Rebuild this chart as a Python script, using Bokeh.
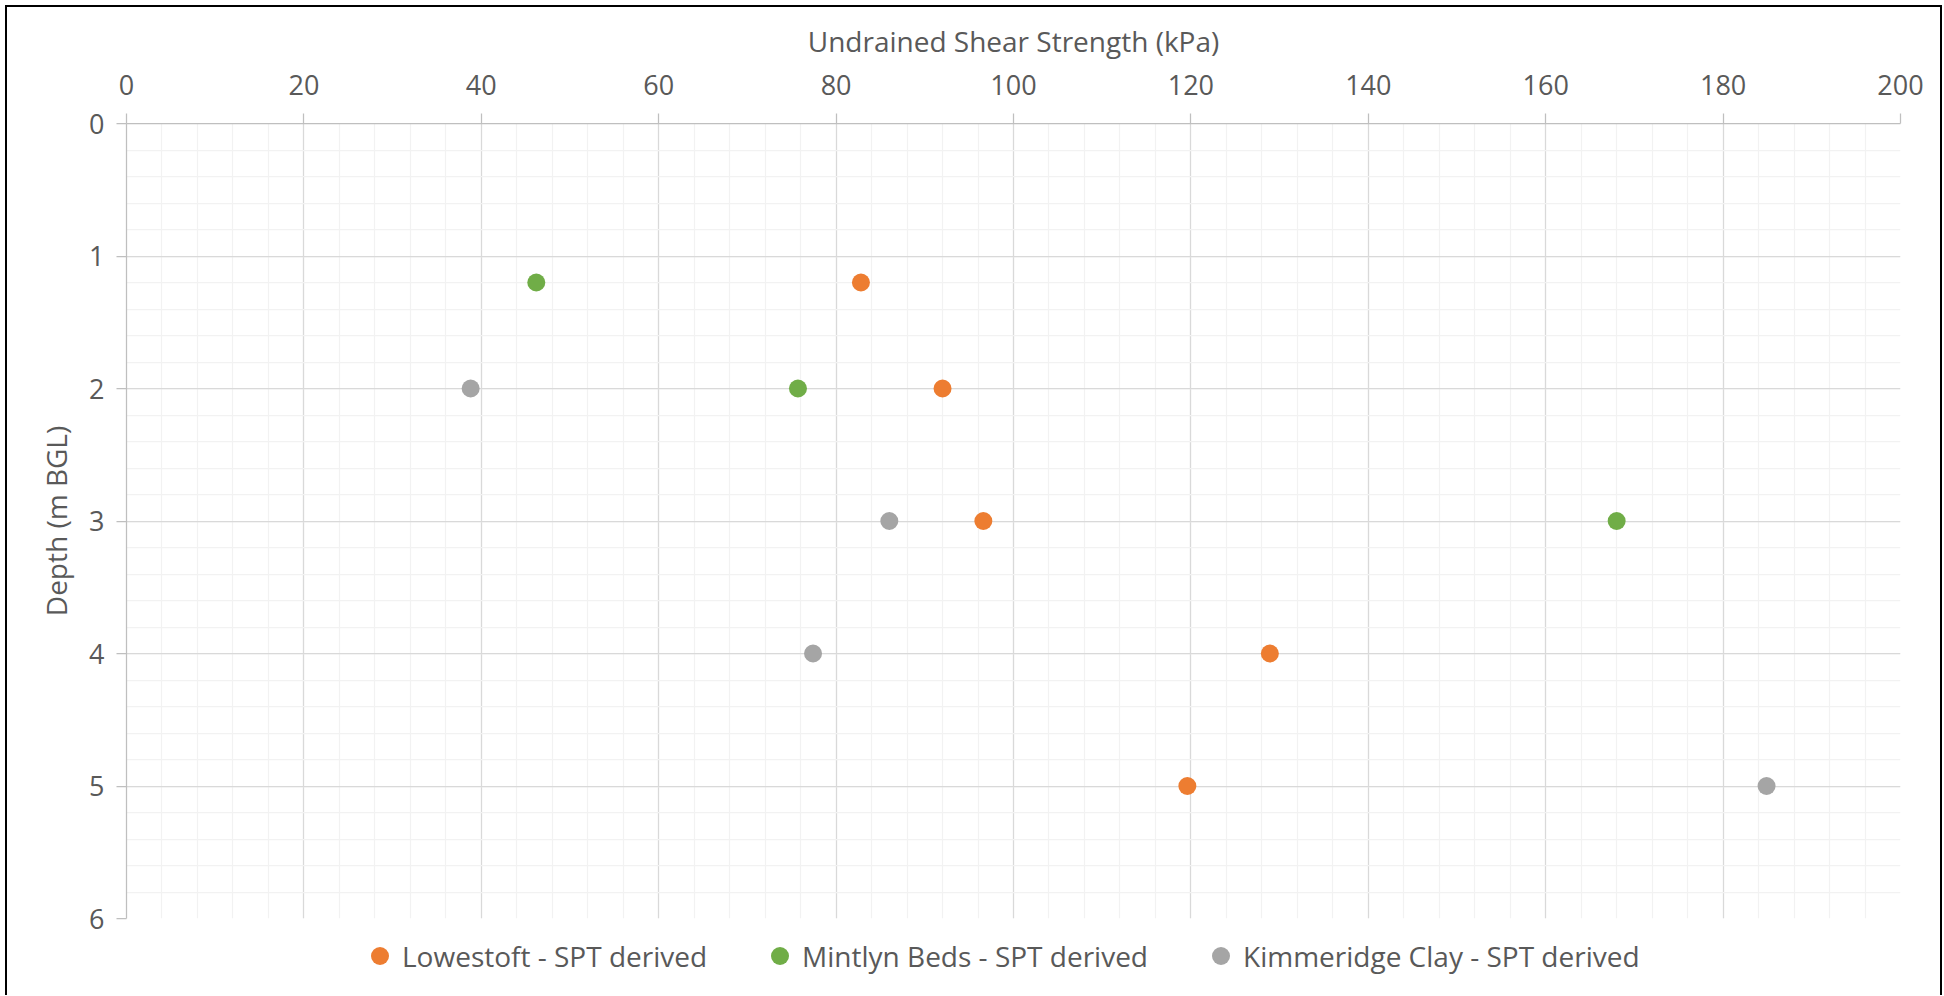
from bokeh.plotting import figure
from bokeh.layouts import column
from bokeh.models import Range1d, FixedTicker, Legend, LegendItem
from bokeh.embed import file_html
from bokeh.resources import INLINE

# ---- data ----
series_names = ["Lowestoft - SPT derived", "Mintlyn Beds - SPT derived", "Kimmeridge Clay - SPT derived"]
series_colors = ["#ED7D31", "#70AD47", "#A5A5A5"]

lowestoft_su = [82.8, 92.0, 96.6, 128.9, 119.6]
lowestoft_depth = [1.2, 2.0, 3.0, 4.0, 5.0]
mintlyn_su = [46.2, 75.7, 168.0]
mintlyn_depth = [1.2, 2.0, 3.0]
kimmeridge_su = [38.8, 86.0, 77.4, 184.9]
kimmeridge_depth = [2.0, 3.0, 4.0, 5.0]

x_major_ticks = [0, 20, 40, 60, 80, 100, 120, 140, 160, 180, 200]
x_minor_ticks = list(range(0, 201, 4))
y_major_ticks = [0, 1, 2, 3, 4, 5, 6]
y_minor_ticks = [i / 5 for i in range(0, 31)]

FONT = "Open Sans"
TXT = "#595959"
FS = "27px"
FS_T = "28px"
W = 1933

p = figure(width=W, height=930,
           x_range=Range1d(0, 200), y_range=Range1d(6, 0),
           x_axis_location="above",
           output_backend="svg", toolbar_location=None,
           min_border_left=119, min_border_top=116,
           min_border_right=40, min_border_bottom=19)
p.outline_line_color = None
p.background_fill_color = "white"
p.border_fill_color = "white"

p.xaxis.ticker = FixedTicker(ticks=x_major_ticks, minor_ticks=x_minor_ticks)
p.yaxis.ticker = FixedTicker(ticks=y_major_ticks, minor_ticks=y_minor_ticks)

for ax in (p.xaxis[0], p.yaxis[0]):
    ax.axis_line_color = "#BFBFBF"
    ax.axis_line_width = 1.25
    ax.major_tick_line_color = "#BFBFBF"
    ax.major_tick_line_width = 1.25
    ax.major_tick_out = 10
    ax.major_tick_in = 0
    ax.minor_tick_out = 0
    ax.minor_tick_in = 0
    ax.major_label_text_font = FONT
    ax.major_label_text_font_size = FS
    ax.major_label_text_color = TXT
    ax.axis_label_text_font = FONT
    ax.axis_label_text_font_size = FS_T
    ax.axis_label_text_color = TXT
    ax.axis_label_text_font_style = "normal"

p.xaxis.axis_label = "Undrained Shear Strength (kPa)"
p.yaxis.axis_label = "Depth (m BGL)"
p.xaxis.major_label_standoff = 19
p.xaxis.axis_label_standoff = 12
p.yaxis.major_label_standoff = 12
p.yaxis.axis_label_standoff = 11

for g in (p.xgrid[0], p.ygrid[0]):
    g.grid_line_color = "#D9D9D9"
    g.grid_line_width = 1.25
    g.minor_grid_line_color = "#F2F2F2"
    g.minor_grid_line_width = 1.25

p.scatter(lowestoft_su, lowestoft_depth, size=18, color=series_colors[0], line_color=None)
p.scatter(mintlyn_su, mintlyn_depth, size=18, color=series_colors[1], line_color=None)
p.scatter(kimmeridge_su, kimmeridge_depth, size=18, color=series_colors[2], line_color=None)

# ---- legend strip (same series, ranges chosen so that only the legend shows) ----
lg = figure(width=W, height=58, x_range=Range1d(0, 200), y_range=Range1d(100, 101),
            x_axis_type=None, y_axis_type=None,
            output_backend="svg", toolbar_location=None,
            min_border=0, min_border_left=0, min_border_right=0,
            min_border_top=0, min_border_bottom=0)
lg.outline_line_color = None
lg.grid.visible = False
l1 = lg.scatter(lowestoft_su, lowestoft_depth, size=18, color=series_colors[0], line_color=None)
l2 = lg.scatter(mintlyn_su, mintlyn_depth, size=18, color=series_colors[1], line_color=None)
l3 = lg.scatter(kimmeridge_su, kimmeridge_depth, size=18, color=series_colors[2], line_color=None)

legend = Legend(items=[LegendItem(label=series_names[0], renderers=[l1]),
                       LegendItem(label=series_names[1], renderers=[l2]),
                       LegendItem(label=series_names[2], renderers=[l3])],
                orientation="horizontal", location=(231, 17),
                glyph_width=45, glyph_height=45, label_standoff=-6,
                spacing=50, padding=0, margin=0,
                border_line_color=None, background_fill_alpha=0,
                label_text_font=FONT, label_text_font_size=FS_T,
                label_text_color=TXT)
lg.add_layout(legend, "center")

layout = column(p, lg, spacing=0)
layout.styles = {"margin-left": "5px", "margin-top": "5px",
                 "border-left": "2px solid black", "border-top": "2px solid black",
                 "border-right": "2px solid black", "background": "white"}

open("out.html", "w").write(file_html(layout, INLINE))
